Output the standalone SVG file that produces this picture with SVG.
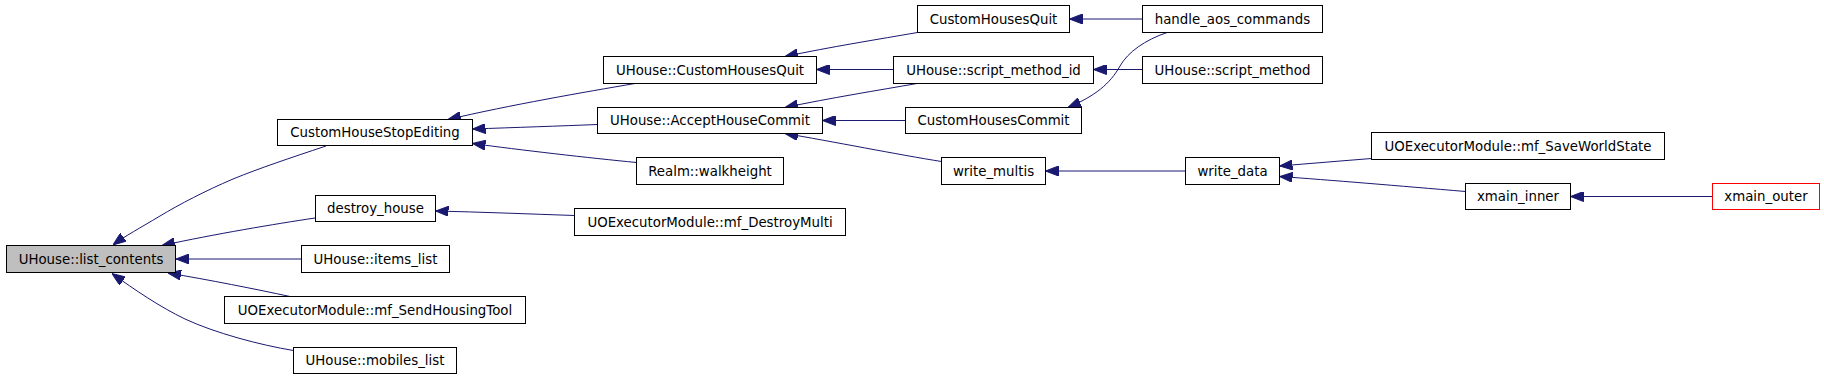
<svg xmlns="http://www.w3.org/2000/svg" width="1824" height="379" viewBox="0 0 1824 379">
<style>
  .node rect { fill: #ffffff; stroke: #000000; stroke-width: 1; }
  .node text { font-family: "DejaVu Sans", "Liberation Sans", sans-serif; font-size: 13.33px; fill: #000000; text-anchor: middle; }
  .node.root rect { fill: #bfbfbf; }
  .node.red rect { stroke: #ff0000; }
  .edges path { fill: none; stroke: #191970; stroke-width: 1; marker-end: url(#arrow); }
</style>
<defs>
  <marker id="arrow" markerUnits="userSpaceOnUse" viewBox="0 0 13 10" refX="13" refY="5" markerWidth="13" markerHeight="10" orient="auto">
    <path d="M0,0 L13,5 L0,10 z" fill="#191970" stroke="#191970" stroke-width="1"/>
  </marker>
</defs>
<rect x="0" y="0" width="1824" height="379" fill="#ffffff"/>
<g class="edges" id="edges">
  <path d="M326,146 C290,158 260,168 233,179 C205,191 180,204 160,216 C140,228 125,236 113,245"/>
  <path d="M315,218 C275,224 215,234 162,245.5"/>
  <path d="M301.5,259 L176,259"/>
  <path d="M290,296.5 C255,289 210,280 168,273"/>
  <path d="M293.5,350.5 C260,345 215,333 185,319 C160,307 135,290 112,273.5"/>
  <path d="M635,83.5 C585,92 510,105 448,119.5"/>
  <path d="M597.5,124.5 C560,126 515,127.5 472.5,129"/>
  <path d="M636.5,162.5 C590,158 520,150 472.5,143.5"/>
  <path d="M917.5,32.5 C880,39 830,47 785,56.5"/>
  <path d="M893.5,69.5 L816.5,69.5"/>
  <path d="M917,83.5 C880,90 830,98 785,107.5"/>
  <path d="M905.5,120.5 L822.5,120.5"/>
  <path d="M941.5,161.5 C900,155 830,141 785,133.5"/>
  <path d="M1142.5,19 L1069.5,19"/>
  <path d="M1167,32.5 C1145,40 1128,52 1120,66 C1110,84 1095,96 1068,107.5"/>
  <path d="M1142.5,69.5 L1093.5,69.5"/>
  <path d="M1185.5,171 L1045.5,171"/>
  <path d="M1371.5,158.5 C1340,161 1310,163.5 1279.5,166"/>
  <path d="M1465.5,191.5 C1400,186 1330,180 1279.5,176.5"/>
  <path d="M1712.5,196.5 L1570.5,196.5"/>
  <path d="M574.5,215.5 C530,214 480,212 435.5,211"/>
</g>
<g class="node root" id="n_list_contents"><rect x="6.5" y="245.5" width="169" height="27"/><text x="91" y="263.7">UHouse::list_contents</text></g>
<g class="node" id="n_CustomHouseStopEditing"><rect x="277.5" y="119.5" width="195" height="26"/><text x="375" y="137.2">CustomHouseStopEditing</text></g>
<g class="node" id="n_destroy_house"><rect x="315.5" y="195.5" width="120" height="26"/><text x="375.5" y="213.2">destroy_house</text></g>
<g class="node" id="n_items_list"><rect x="301.5" y="245.5" width="148" height="27"/><text x="375.5" y="263.7">UHouse::items_list</text></g>
<g class="node" id="n_mf_SendHousingTool"><rect x="224.5" y="296.5" width="301" height="27"/><text x="375" y="314.7">UOExecutorModule::mf_SendHousingTool</text></g>
<g class="node" id="n_mobiles_list"><rect x="293.5" y="347.5" width="163" height="26"/><text x="375" y="365.2">UHouse::mobiles_list</text></g>
<g class="node" id="n_CustomHousesQuit"><rect x="917.5" y="5.5" width="152" height="27"/><text x="993.5" y="23.7">CustomHousesQuit</text></g>
<g class="node" id="n_UHouse_CustomHousesQuit"><rect x="603.5" y="56.5" width="213" height="27"/><text x="710" y="74.7">UHouse::CustomHousesQuit</text></g>
<g class="node" id="n_script_method_id"><rect x="893.5" y="56.5" width="200" height="27"/><text x="993.5" y="74.7">UHouse::script_method_id</text></g>
<g class="node" id="n_AcceptHouseCommit"><rect x="597.5" y="107.5" width="225" height="26"/><text x="710" y="125.2">UHouse::AcceptHouseCommit</text></g>
<g class="node" id="n_CustomHousesCommit"><rect x="905.5" y="107.5" width="176" height="26"/><text x="993.5" y="125.2">CustomHousesCommit</text></g>
<g class="node" id="n_walkheight"><rect x="636.5" y="157.5" width="147" height="27"/><text x="710" y="175.7">Realm::walkheight</text></g>
<g class="node" id="n_write_multis"><rect x="941.5" y="157.5" width="104" height="27"/><text x="993.5" y="175.7">write_multis</text></g>
<g class="node" id="n_mf_DestroyMulti"><rect x="574.5" y="208.5" width="271" height="27"/><text x="710" y="226.7">UOExecutorModule::mf_DestroyMulti</text></g>
<g class="node" id="n_handle_aos_commands"><rect x="1142.5" y="5.5" width="180" height="27"/><text x="1232.5" y="23.7">handle_aos_commands</text></g>
<g class="node" id="n_script_method"><rect x="1142.5" y="56.5" width="180" height="27"/><text x="1232.5" y="74.7">UHouse::script_method</text></g>
<g class="node" id="n_mf_SaveWorldState"><rect x="1371.5" y="132.5" width="293" height="27"/><text x="1518" y="150.7">UOExecutorModule::mf_SaveWorldState</text></g>
<g class="node" id="n_write_data"><rect x="1185.5" y="157.5" width="94" height="27"/><text x="1232.5" y="175.7">write_data</text></g>
<g class="node" id="n_xmain_inner"><rect x="1465.5" y="183.5" width="105" height="26"/><text x="1518" y="201.2">xmain_inner</text></g>
<g class="node red" id="n_xmain_outer"><rect x="1712.5" y="183.5" width="107" height="26"/><text x="1766" y="201.2">xmain_outer</text></g>
</svg>
